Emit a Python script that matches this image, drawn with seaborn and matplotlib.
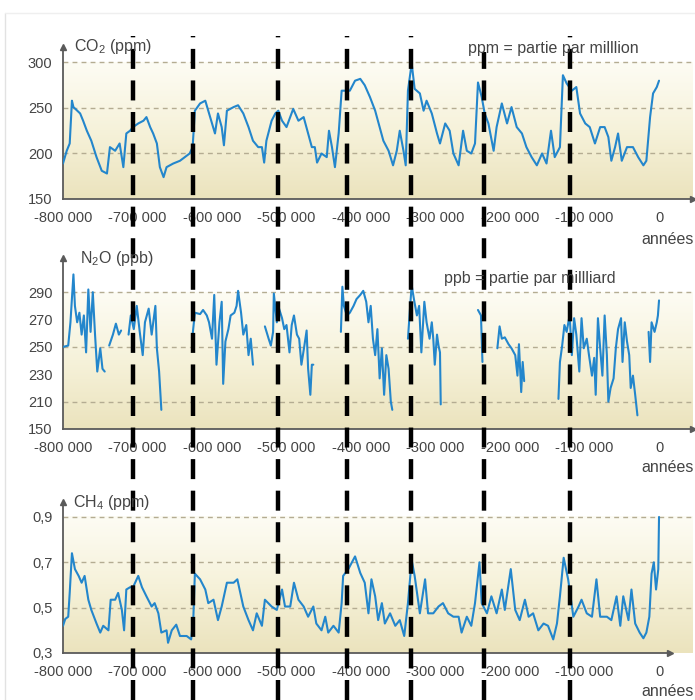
import numpy as np
import pandas as pd
import matplotlib
matplotlib.use('Agg')
import matplotlib.pyplot as plt
import seaborn as sns
from matplotlib.colors import LinearSegmentedColormap
from matplotlib.lines import Line2D

# ages in thousands of years (0 = today)
co2_age = [-800, -795, -791, -788, -786, -777, -773, -768, -762, -755, -748, -741, -737, -730, -724, -719,
           -715, -710, -706, -699, -692, -688, -683, -679, -674, -670, -665, -661, -652, -643, -630, -626,
           -623, -616, -609, -605, -600, -596, -592, -587, -584, -580, -571, -565, -558, -551, -545, -538,
           -533, -530, -527, -520, -515, -511, -506, -500, -491, -484, -477, -471, -466, -462, -459, -453,
           -446, -443, -439, -435, -430, -426, -424, -415, -408, -401, -395, -388, -381, -375, -370, -363,
           -357, -352, -348, -343, -340, -337, -332, -328, -321, -316, -312, -305, -298, -294, -287, -281,
           -276, -269, -263, -258, -252, -247, -243, -238, -234, -229, -222, -218, -211, -204, -198, -191,
           -184, -178, -171, -164, -157, -151, -145, -140, -133, -129, -124, -117, -111, -106, -99, -93,
           -86, -79, -73, -68, -64, -59, -55, -50, -43, -35, -28, -21, -17, -12, -8, -3, 0]
co2_ppm = [189, 203, 211, 258, 251, 244, 236, 225, 214, 196, 181, 178, 207, 203, 211, 185,
           222, 225, 229, 233, 236, 240, 229, 222, 211, 185, 174, 185, 189, 192, 200, 207,
           247, 255, 258, 247, 233, 222, 244, 229, 209, 247, 251, 253, 244, 229, 214, 207,
           207, 190, 214, 236, 244, 247, 236, 229, 249, 236, 240, 222, 207, 207, 190, 200,
           196, 225, 207, 185, 222, 269, 269, 269, 280, 282, 275, 262, 247, 229, 214, 203,
           187, 203, 225, 203, 187, 269, 299, 271, 266, 247, 258, 244, 222, 211, 233, 225,
           200, 187, 225, 203, 200, 211, 278, 262, 244, 233, 203, 229, 255, 233, 251, 229,
           222, 207, 196, 187, 200, 189, 225, 196, 207, 286, 277, 269, 273, 244, 233, 229,
           211, 229, 229, 218, 192, 207, 222, 192, 207, 207, 196, 187, 192, 240, 266, 273, 280]

# None marks a hole in the N2O record
n2o_age = [-800, -793, -790, -786, -784, -781, -778, -775, -772, -769, -766, -763, -760, -757, -754, -750,
           -747, -744, -741,
           -738, -733, -729, -725, -722, -717,
           -712, -709, -705, -701, -697, -693, -690, -685, -681, -676, -674, -671, -668, -650,
           -626, -623, -616, -612, -607, -604, -600, -597, -594, -590, -587, -585, -582, -578, -575, -570,
           -567, -565, -561, -558, -554, -551, -548, -545, -540,
           -529, -524, -521, -518, -517, -513, -510, -506, -503, -500, -496, -493, -490, -486, -483, -480,
           -476, -473, -471, -468, -466, -464, -450,
           -427, -425, -423, -419, -415, -410, -406, -401, -397, -393, -390, -387, -384, -381, -378, -375,
           -372, -369, -366, -363, -360, -358, -350,
           -337, -334, -332, -329, -325, -322, -319, -315, -312, -308, -305, -303, -301, -298, -296, -294,
           -293, -270,
           -243, -239, -238, -237, -230,
           -217, -214, -211, -207, -202, -198, -193, -190, -188, -185, -183, -181, -170,
           -135, -133, -130, -127, -124, -120, -117, -114, -111, -107, -104, -101, -97, -94, -90, -87,
           -85, -82, -79, -76, -73, -70, -68, -65, -61, -58, -55, -51, -49, -46, -43, -40,
           -38, -35, -32, -29, -20,
           -14, -12, -10, -6, -3, -1.5, 0]
n2o_ppb = [250, 251, 268, 303, 280, 268, 275, 259, 273, 246, 292, 261, 290, 259, 232, 249,
           234, 232, None,
           251, 259, 267, 259, 262, None,
           259, 273, 263, 280, 261, 244, 268, 278, 259, 280, 249, 232, 204, None,
           259, 275, 274, 277, 273, 268, 256, 288, 237, 268, 283, 223, 254, 263, 273, 275,
           280, 291, 275, 259, 266, 244, 256, 237, None,
           265, 256, 251, 261, 289, 268, 278, 271, 263, 266, 246, 266, 273, 259, 256, 237,
           251, 262, 234, 215, 237, 237, None,
           261, 294, 280, 273, 275, 280, 285, 288, 291, 283, 268, 280, 256, 244, 263, 227,
           249, 215, 244, 234, 210, 204, None,
           256, 280, 295, 285, 273, 280, 246, 283, 268, 256, 268, 256, 237, 259, 251, 246,
           208, None,
           277, 273, 256, 239, None,
           249, 265, 256, 257, 252, 249, 244, 229, 252, 217, 239, 225, None,
           212, 239, 251, 266, 261, 273, 244, 271, 259, 232, 271, 249, 256, 244, 229, 242,
           215, 271, 249, 229, 273, 244, 210, 220, 227, 249, 263, 271, 239, 268, 254, 244,
           220, 229, 215, 200, None,
           261, 239, 268, 261, 268, 273, 284]

ch4_age = [-800, -797, -793, -791, -788, -784, -779, -775, -771, -766, -762, -755, -750, -746, -739, -736,
           -730, -726, -721, -718, -715, -710, -706, -699, -694, -688, -681, -677, -672, -668, -661, -659,
           -654, -648, -643, -634, -628, -625, -623, -616, -609, -605, -598, -592, -587, -580, -571, -566,
           -562, -558, -551, -545, -540, -533, -529, -520, -513, -506, -502, -495, -490, -484, -477, -471,
           -464, -460, -453, -448, -444, -437, -430, -426, -424, -417, -408, -401, -395, -390, -386, -381,
           -377, -372, -368, -361, -354, -348, -342, -337, -332, -328, -321, -314, -310, -303, -296, -290,
           -283, -276, -269, -265, -258, -252, -247, -241, -238, -231, -225, -218, -211, -207, -199, -193,
           -187, -180, -175, -169, -162, -155, -149, -142, -137, -133, -128, -122, -115, -108, -104, -97,
           -90, -84, -79, -70, -64, -57, -52, -48, -41, -37, -32, -26, -21, -17, -13, -10, -7, -4, -1, 0]
ch4_ppm = [0.42, 0.45, 0.46, 0.565, 0.74, 0.67, 0.64, 0.61, 0.64, 0.535, 0.49, 0.43, 0.39, 0.42, 0.40, 0.535,
           0.535, 0.565, 0.49, 0.40, 0.58, 0.59, 0.59, 0.64, 0.59, 0.55, 0.505, 0.52, 0.475, 0.39, 0.40, 0.345,
           0.40, 0.425, 0.375, 0.375, 0.36, 0.46, 0.65, 0.625, 0.58, 0.52, 0.535, 0.445, 0.505, 0.61, 0.61, 0.625,
           0.565, 0.505, 0.445, 0.40, 0.475, 0.42, 0.535, 0.505, 0.49, 0.58, 0.505, 0.505, 0.61, 0.535, 0.505, 0.46,
           0.505, 0.43, 0.40, 0.46, 0.39, 0.42, 0.39, 0.52, 0.64, 0.67, 0.726, 0.653, 0.61, 0.475, 0.625, 0.55,
           0.445, 0.52, 0.43, 0.475, 0.42, 0.445, 0.375, 0.52, 0.71, 0.64, 0.475, 0.625, 0.475, 0.475, 0.505, 0.52,
           0.475, 0.46, 0.46, 0.39, 0.46, 0.42, 0.52, 0.70, 0.52, 0.475, 0.55, 0.475, 0.58, 0.49, 0.67, 0.49,
           0.445, 0.535, 0.46, 0.475, 0.40, 0.43, 0.42, 0.36, 0.43, 0.55, 0.72, 0.625, 0.46, 0.505, 0.535, 0.475,
           0.46, 0.625, 0.46, 0.46, 0.445, 0.55, 0.42, 0.55, 0.445, 0.58, 0.43, 0.39, 0.365, 0.39, 0.46, 0.65, 0.70, 0.58, 0.67, 0.90]

x_ticks = [-800, -700, -600, -500, -400, -300, -200, -100, 0]
x_labels = ['-800 000', '-700 000', '-600 000', '-500 000', '-400 000', '-300 000', '-200 000', '-100 000', '0']

co2_ticks = [150, 200, 250, 300]
co2_labels = ['150', '200', '250', '300']
n2o_ticks = [190, 210, 230, 250, 270, 290]   # broken axis: bottom tick is labelled 150
n2o_labels = ['150', '210', '230', '250', '270', '290']
ch4_ticks = [0.3, 0.5, 0.7, 0.9]
ch4_labels = ['0,3', '0,5', '0,7', '0,9']

# dashed markers drawn across the whole figure
marker_age = [-706, -625, -511, -419, -333, -235, -120]

co2_df = pd.DataFrame({'age': co2_age, 'ppm': co2_ppm})
ch4_df = pd.DataFrame({'age': ch4_age, 'ppm': ch4_ppm})
n2o_df = pd.DataFrame({'age': n2o_age, 'ppb': n2o_ppb})
n2o_df['seg'] = n2o_df['ppb'].isna().cumsum()
n2o_df = n2o_df.dropna()

sns.set_style('white')
plt.rcParams['font.family'] = ['Liberation Sans', 'DejaVu Sans']
plt.rcParams['mathtext.default'] = 'regular'

W, H = 695, 700
line_col = '#2386cc'
axis_col = '#5a5a5a'
text_col = '#444444'
grid_col = '#b4ac92'
bg_cmap = LinearSegmentedColormap.from_list('bg', ['#fdfcf4', '#f6f2da', '#ebe3bd'])
XMIN, XMAX = -800, 45.6


def px_rect(top, bottom):
    return [63 / W, 1 - bottom / H, 630 / W, (bottom - top) / H]


def style_panel(ax, ylim, grid_top, grid_vals, ticks, labels, arrow_x=None):
    ax.imshow(np.linspace(0, 1, 256).reshape(-1, 1), cmap=bg_cmap, aspect='auto',
              extent=(XMIN, XMAX + 5, ylim[0], grid_top), zorder=0)
    for g in grid_vals:
        ax.axhline(g, color=grid_col, lw=1.0, ls=(0, (3.5, 3)), zorder=1)
    ax.set_xlim(XMIN, XMAX)
    ax.set_ylim(*ylim)
    ax.set_xticks(x_ticks)
    ax.set_xticklabels(x_labels)
    ax.set_yticks(ticks)
    ax.set_yticklabels(labels)
    ax.set_xlabel('')
    ax.set_ylabel('')
    for s in ['top', 'right']:
        ax.spines[s].set_visible(False)
    for s in ['left', 'bottom']:
        ax.spines[s].set_color(axis_col)
        ax.spines[s].set_linewidth(1.3)
    ax.tick_params(axis='both', colors=axis_col, labelcolor=text_col, labelsize=10.5,
                   length=3.5, width=1.0, direction='out', pad=4)
    ax.tick_params(axis='x', pad=5)
    ax.plot(0, 1, marker='^', ms=5, color=axis_col, transform=ax.transAxes, clip_on=False, zorder=5)
    if arrow_x is None:
        ax.plot(1, 0, marker='>', ms=5, color=axis_col, transform=ax.transAxes, clip_on=False, zorder=5)
    else:
        ax.spines['bottom'].set_bounds(XMIN, arrow_x)
        ax.plot(arrow_x, ylim[0], marker='>', ms=5, color=axis_col, clip_on=False, zorder=5)
    ax.set_facecolor('none')


fig = plt.figure(figsize=(W / 100, H / 100), dpi=100)

# CO2
ax1 = fig.add_axes(px_rect(47, 199))
sns.lineplot(data=co2_df, x='age', y='ppm', ax=ax1, color=line_col, lw=1.5, zorder=3)
style_panel(ax1, (150, 317), 300, [200, 250, 300], co2_ticks, co2_labels)

# N2O
ax2 = fig.add_axes(px_rect(258, 429))
sns.lineplot(data=n2o_df, x='age', y='ppb', units='seg', estimator=None, ax=ax2,
             color=line_col, lw=1.5, zorder=3)
style_panel(ax2, (190, 315), 290, [210, 250, 290], n2o_ticks, n2o_labels)

# CH4
ax3 = fig.add_axes(px_rect(502, 653))
sns.lineplot(data=ch4_df, x='age', y='ppm', ax=ax3, color=line_col, lw=1.5, zorder=3)
style_panel(ax3, (0.3, 0.966), 0.9, [0.5, 0.7, 0.9], ch4_ticks, ch4_labels, arrow_x=15)


def ftext(x, y, s, **kw):
    fig.text(x / W, 1 - y / H, s, color=text_col, va='center', **kw)


ftext(74, 47, 'CO$_2$ (ppm)', fontsize=11.5)
ftext(468, 49, 'ppm = partie par milllion', fontsize=11.5)
ftext(80, 258, 'N$_2$O (ppb)', fontsize=11.5)
ftext(444, 279, 'ppb = partie par millliard', fontsize=11.5)
ftext(73, 502, 'CH$_4$ (ppm)', fontsize=11.5)
for yy in [240, 467, 691]:
    ftext(641, yy, 'années', fontsize=11.5)

# dashed vertical markers over the three panels
axv = fig.add_axes([63 / W, 0, 630 / W, 1])
axv.set_xlim(XMIN, XMAX)
axv.set_ylim(0, 1)
axv.axis('off')
for a in marker_age:
    top = 1 - (52 if a == -235 else 36) / H
    axv.axvline(a, ymin=0, ymax=top, color='black', lw=3.2, ls=(0, (4.5, 2.6)), zorder=10)

# faint frame of the original figure
fig.add_artist(Line2D([5 / W, 5 / W], [0, 1 - 13 / H], color='#e2e2e2', lw=1.0))
fig.add_artist(Line2D([5 / W, 1], [1 - 13 / H, 1 - 13 / H], color='#efefef', lw=1.0))

fig.savefig('out.png', dpi=100, facecolor='white')
